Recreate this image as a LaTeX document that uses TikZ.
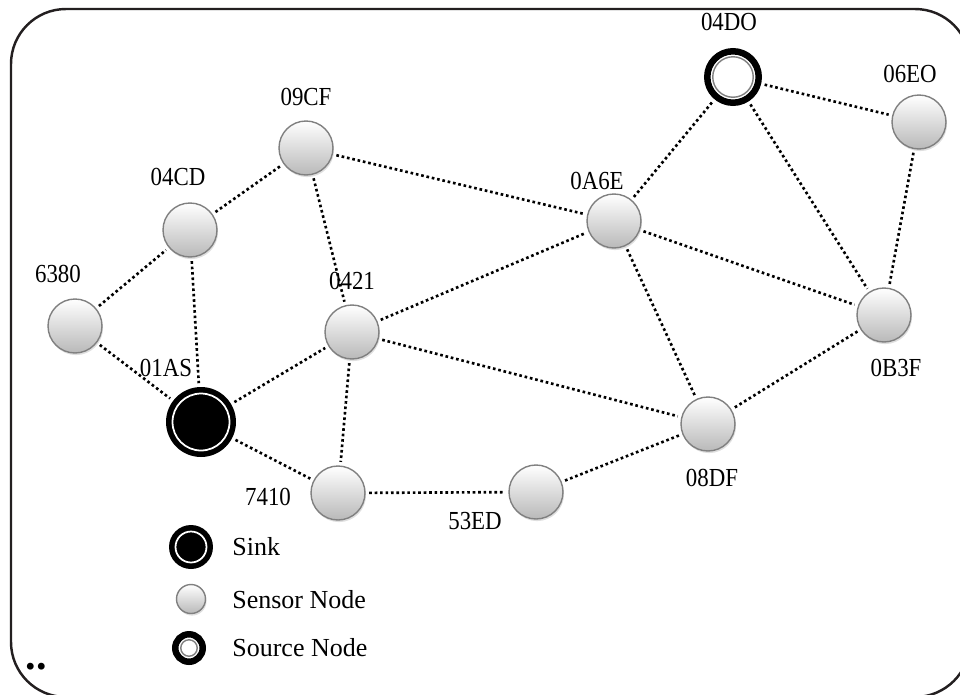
\documentclass[tikz,border=0pt]{standalone}
\usepackage{fontspec}
\setmainfont{Liberation Serif}
\newfontfamily\idfont[FakeStretch=0.88]{Liberation Serif}
\usetikzlibrary{shadows}

\tikzset{
    sensor/.style={circle, draw=gray, line width=0.8pt, top color=white,
        bottom color=gray!55, minimum size=#1, inner sep=0pt,
        drop shadow={shadow xshift=0.6pt, shadow yshift=-1.2pt, opacity=0.25}},
    sink/.style={circle, fill=black, minimum size=#1, inner sep=0pt,
        path picture={\draw[white, line width=1pt]
            (path picture bounding box.center) circle [radius=0.5*#1-0.13cm];}},
    source/.style={circle, draw=black, line width=0.13cm, fill=white,
        minimum size=#1, inner sep=0pt,
        path picture={\draw[gray, line width=0.8pt]
            (path picture bounding box.center) circle [radius=0.5*#1-0.11cm];}},
    nodeid/.style={font=\idfont\fontsize{14.8}{17}\selectfont, inner sep=0pt},
    legendtext/.style={font=\fontsize{14.8}{17}\selectfont, anchor=west, inner sep=0pt},
    link/.style={line width=1.5pt, dash pattern=on 1.5pt off 1.6pt,
        shorten >=2pt, shorten <=2pt}
}

\begin{document}
\begin{tikzpicture}[x=0.02cm, y=-0.02cm]
            \useasboundingbox (0,0) rectangle (960,694);
            \begin{scope}
            \clip (0,0) rectangle (960,694);
            \draw[line width=1.4pt, color={rgb,255:red,35;green,31;blue,32}, rounded corners=1.1cm]
                (11,9) rectangle (970,697);
            \end{scope}
            % network
            \node[sensor=1.08cm] (s09CF) at (306,148) {};
            \node[sensor=1.08cm] (s04CD) at (190,230) {};
            \node[sensor=1.08cm] (s6380) at (75,326) {};
            \node[sink=1.4cm] (s01AS) at (201,422) {};
            \node[sensor=1.08cm] (s0421) at (352,332) {};
            \node[sensor=1.08cm] (s0A6E) at (614,221) {};
            \node[source=1.03cm] (s04DO) at (733,77) {};
            \node[sensor=1.08cm] (s06EO) at (919,122) {};
            \node[sensor=1.08cm] (s0B3F) at (884,315) {};
            \node[sensor=1.08cm] (s08DF) at (708,424) {};
            \node[sensor=1.08cm] (s53ED) at (536,492) {};
            \node[sensor=1.08cm] (s7410) at (338,493) {};
            % ids
            \node[nodeid] (l09CF) at (306,97) {09CF};
            \node[nodeid] (l04CD) at (178,177) {04CD};
            \node[nodeid] (l6380) at (58,274) {6380};
            \node[nodeid] (l01AS) at (166,368) {01AS};
            \node[nodeid] (l0421) at (352,281) {0421};
            \node[nodeid] (l0A6E) at (597,181) {0A6E};
            \node[nodeid] (l04DO) at (729,22) {04DO};
            \node[nodeid] (l06EO) at (910,74) {06EO};
            \node[nodeid] (l0B3F) at (896,368) {0B3F};
            \node[nodeid] (l08DF) at (712,478) {08DF};
            \node[nodeid] (l53ED) at (475,521) {53ED};
            \node[nodeid] (l7410) at (268,497) {7410};
            % links
            \draw[link] (s6380) -- (s04CD);
            \draw[link] (s6380) -- (s01AS);
            \draw[link] (s04CD) -- (s09CF);
            \draw[link] (s04CD) -- (s01AS);
            \draw[link] (s09CF) -- (s0A6E);
            \draw[link] (s09CF) -- (s0421);
            \draw[link] (s01AS) -- (s0421);
            \draw[link] (s01AS) -- (s7410);
            \draw[link] (s0421) -- (s0A6E);
            \draw[link] (s0421) -- (s08DF);
            \draw[link] (s0421) -- (s7410);
            \draw[link] (s7410) -- (s53ED);
            \draw[link] (s53ED) -- (s08DF);
            \draw[link] (s0A6E) -- (s04DO);
            \draw[link] (s0A6E) -- (s0B3F);
            \draw[link] (s0A6E) -- (s08DF);
            \draw[link] (s04DO) -- (s06EO);
            \draw[link] (s04DO) -- (s0B3F);
            \draw[link] (s06EO) -- (s0B3F);
            \draw[link] (s0B3F) -- (s08DF);
            % legend
            \node[sink=0.88cm] (ksink) at (191,547) {};
            \node[sensor=0.58cm] (ksensor) at (191,599) {};
            \node[source=0.55cm] (ksource) at (189,648) {};
            \node[legendtext] (tsink) at (232,547) {Sink};
            \node[legendtext] (tsensor) at (232,600) {Sensor Node};
            \node[legendtext] (tsource) at (232,648) {Source Node};
            \node[font=\fontsize{24}{24}\selectfont\bfseries, inner sep=0pt, anchor=base] (dots) at (36,669) {..};
\end{tikzpicture}
\end{document}
